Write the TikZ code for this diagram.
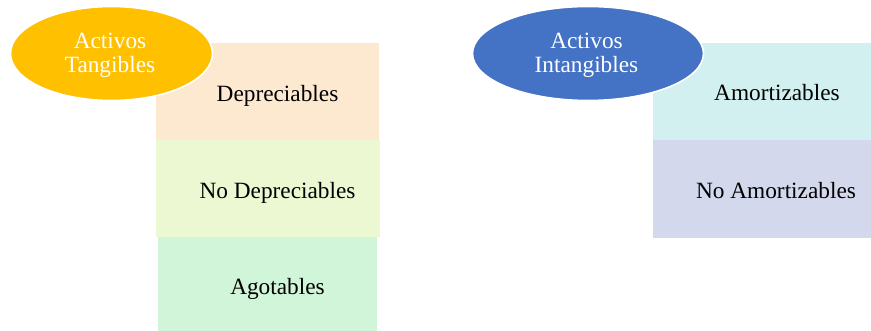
\documentclass[tikz,border=0pt]{standalone}
\usepackage{fontspec}
\setmainfont{Liberation Serif}
\usetikzlibrary{shapes.geometric}
\definecolor{tanggold}{HTML}{FFC000}
\definecolor{intblue}{HTML}{4472C4}
\definecolor{peach}{HTML}{FDE8D0}
\definecolor{lime}{HTML}{EBF8D2}
\definecolor{mint}{HTML}{D0F5D8}
\definecolor{aqua}{HTML}{D2F0F0}
\definecolor{lavender}{HTML}{D3D8EC}
\tikzset{
  x=1pt, y=-1pt,
  catbox/.style={rectangle, inner sep=0pt, outer sep=0pt, draw=none},
  cattext/.style={anchor=base, inner sep=0pt, font=\fontsize{23.3}{24}\selectfont, text=black},
  headoval/.style={ellipse, inner sep=0pt, draw=white, line width=1.6pt},
  headtext/.style={inner sep=0pt, align=center, text=white, font=\fontsize{23.3}{24}\selectfont},
}
\begin{document}
\begin{tikzpicture}
\useasboundingbox (0,0) rectangle (871,331);
% tangible asset categories
\fill[peach]    (156,43)  rectangle (379,140) node[catbox, pos=0.5] (dep) {};
\fill[lime]     (156,140) rectangle (380,237) node[catbox, pos=0.5] (nodep) {};
\fill[mint]     (158,237) rectangle (377,331) node[catbox, pos=0.5] (agot) {};
\node[cattext] (tdep)   at (277.5,101.5) {Depreciables};
\node[cattext] (tnodep) at (277.5,198.5) {No Depreciables};
\node[cattext] (tagot)  at (277.5,294.5) {Agotables};
% intangible asset categories
\fill[aqua]     (653,43)  rectangle (871,140) node[catbox, pos=0.5] (amo) {};
\fill[lavender] (653,140) rectangle (871,238) node[catbox, pos=0.5] (noamo) {};
\node[cattext] (tamo)   at (777,100.5)  {Amortizables};
\node[cattext] (tnoamo) at (776,198.5) {No Amortizables};
% headings
\node[headoval, fill=tanggold, minimum width=202pt, minimum height=94pt] (tang) at (111.5,53.5) {};
\node[headtext, anchor=base] (tangA) at (110,49) {Activos};
\node[headtext, anchor=base] (tangB) at (110,73) {Tangibles};
\node[headoval, fill=intblue, minimum width=231pt, minimum height=94pt] (intg) at (588,53.5) {};
\node[headtext, anchor=base] (intA) at (586.5,49) {Activos};
\node[headtext, anchor=base] (intB) at (586.5,73) {Intangibles};
\end{tikzpicture}
\end{document}
